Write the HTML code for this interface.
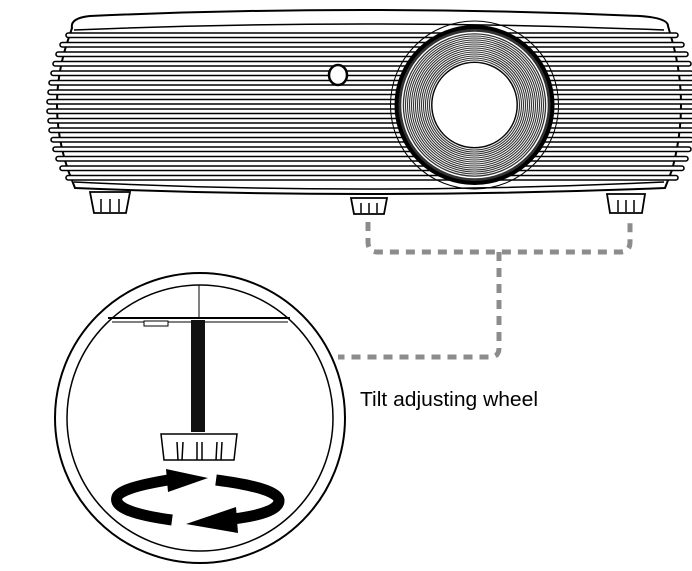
<!DOCTYPE html>
<html><head><style>html,body{margin:0;padding:0;background:#fff;width:692px;height:571px;overflow:hidden}</style></head>
<body>
<svg width="692" height="571" viewBox="0 0 692 571" xmlns="http://www.w3.org/2000/svg">
<!-- body outline -->
<path d="M72 28 Q70 18 90 16 Q360 4 640 16 Q668 18 668 26 L672 40 Q690 105 672 170 L665 188 Q360 200 75 188 L68 170 Q46 105 68 40 Z" fill="#fff" stroke="#000" stroke-width="2"/>
<path d="M74 30 Q360 18 664 30" fill="none" stroke="#000" stroke-width="1.5"/>
<path d="M74 182 Q360 196 664 182" fill="none" stroke="#000" stroke-width="1.5"/>
<g fill="#fff" stroke="#000" stroke-width="1.6">
<rect x="66" y="33" width="612" height="4.5" rx="2.2"/>
<rect x="60" y="42.5" width="624" height="4.5" rx="2.2"/>
<rect x="56" y="52" width="632" height="4.5" rx="2.2"/>
<rect x="53" y="61.5" width="638" height="4.5" rx="2.2"/>
<rect x="51" y="71" width="642" height="4.5" rx="2.2"/>
<rect x="49" y="80.5" width="646" height="4.5" rx="2.2"/>
<rect x="48" y="90" width="648" height="4.5" rx="2.2"/>
<rect x="47" y="99.5" width="650" height="4.5" rx="2.2"/>
<rect x="47" y="109" width="650" height="4.5" rx="2.2"/>
<rect x="48" y="118.5" width="648" height="4.5" rx="2.2"/>
<rect x="49" y="128" width="646" height="4.5" rx="2.2"/>
<rect x="51" y="137.5" width="642" height="4.5" rx="2.2"/>
<rect x="53" y="147" width="638" height="4.5" rx="2.2"/>
<rect x="56" y="156.5" width="632" height="4.5" rx="2.2"/>
<rect x="60" y="166" width="624" height="4.5" rx="2.2"/>
<rect x="66" y="175.5" width="612" height="4.5" rx="2.2"/>
</g>
<!-- lens -->
<circle cx="474.5" cy="105" r="84" fill="none" stroke="#000" stroke-width="1"/>
<circle cx="474.5" cy="105" r="78" fill="#333" stroke="#000" stroke-width="4"/>
<circle cx="474.5" cy="105" r="72.5" fill="none" stroke="#fff" stroke-width="1.5"/>
<g fill="none" stroke="#fff" stroke-width="0.9">
<circle cx="474.5" cy="105" r="70"/><circle cx="474.5" cy="105" r="68"/><circle cx="474.5" cy="105" r="66"/><circle cx="474.5" cy="105" r="64"/><circle cx="474.5" cy="105" r="62"/><circle cx="474.5" cy="105" r="60"/><circle cx="474.5" cy="105" r="58"/><circle cx="474.5" cy="105" r="56"/><circle cx="474.5" cy="105" r="54"/><circle cx="474.5" cy="105" r="52"/><circle cx="474.5" cy="105" r="50"/><circle cx="474.5" cy="105" r="48"/><circle cx="474.5" cy="105" r="46"/><circle cx="474.5" cy="105" r="44"/>
</g>
<circle cx="474.5" cy="105" r="42.5" fill="#fff" stroke="#000" stroke-width="1"/>
<!-- button -->
<ellipse cx="338" cy="75" rx="9" ry="10" fill="#fff" stroke="#000" stroke-width="2.5"/>
<!-- feet -->
<g fill="#fff" stroke="#000" stroke-width="1.8">
<path d="M90 192 L130 192 L126 213 L94 213 Z"/>
<path d="M351 198 L387 198 L384 214 L354 214 Z"/>
<path d="M607 194 L645 194 L642 213 L610 213 Z"/>
</g>
<g stroke="#000" stroke-width="1.5">
<line x1="101" y1="199" x2="101" y2="212"/><line x1="110" y1="199" x2="110" y2="212"/><line x1="119" y1="199" x2="119" y2="212"/>
<line x1="361" y1="203" x2="361" y2="213"/><line x1="369" y1="203" x2="369" y2="213"/><line x1="377" y1="203" x2="377" y2="213"/>
<line x1="618" y1="200" x2="618" y2="212"/><line x1="626" y1="200" x2="626" y2="212"/><line x1="634" y1="200" x2="634" y2="212"/>
</g>
<!-- dashed connector -->
<g fill="none" stroke="#8c8c8c" stroke-width="5" stroke-dasharray="9 7">
<path d="M368 222 L368 242 Q368 252 378 252 L620 252 Q630 252 630 242 L630 222"/>
<path d="M499 252 L499 348 Q499 357 490 357 L338 357"/>
</g>
<!-- detail circle -->
<circle cx="200" cy="418" r="145" fill="#fff" stroke="#000" stroke-width="2"/>
<circle cx="200" cy="418" r="133" fill="none" stroke="#000" stroke-width="1.5"/>
<line x1="199" y1="285" x2="199" y2="318" stroke="#000" stroke-width="1"/>
<path d="M108 318 L290 318" stroke="#000" stroke-width="2"/>
<path d="M112 322 L288 322" stroke="#000" stroke-width="1"/>
<rect x="144" y="321" width="24" height="5" fill="#fff" stroke="#000" stroke-width="1"/>
<rect x="191" y="320" width="14" height="112" fill="#111"/>
<path d="M161 434 L237 434 L234 460 L164 460 Z" fill="#fff" stroke="#000" stroke-width="1.5"/>
<g fill="none" stroke="#000" stroke-width="1.5">
<path d="M177 442 L178 460 M183 442 L182 460"/><path d="M197 442 L197 460 M202 442 L202 460"/><path d="M217 442 L216 460 M222 442 L221 460"/>
</g>
<!-- rotation arrows -->
<path d="M168 480 Q120 488 117 497 Q112 512 172 520" fill="none" stroke="#000" stroke-width="11"/>
<polygon points="166,469 208,478 168,492" fill="#000"/>
<path d="M216 480 Q277 488 279 500 Q280 513 233 519" fill="none" stroke="#000" stroke-width="11"/>
<polygon points="236,507 186,524 238,533" fill="#000"/>
<text x="360" y="406" font-family="Liberation Sans, sans-serif" font-size="20" fill="#000" textLength="178" lengthAdjust="spacingAndGlyphs">Tilt adjusting wheel</text>
</svg>
</body></html>
